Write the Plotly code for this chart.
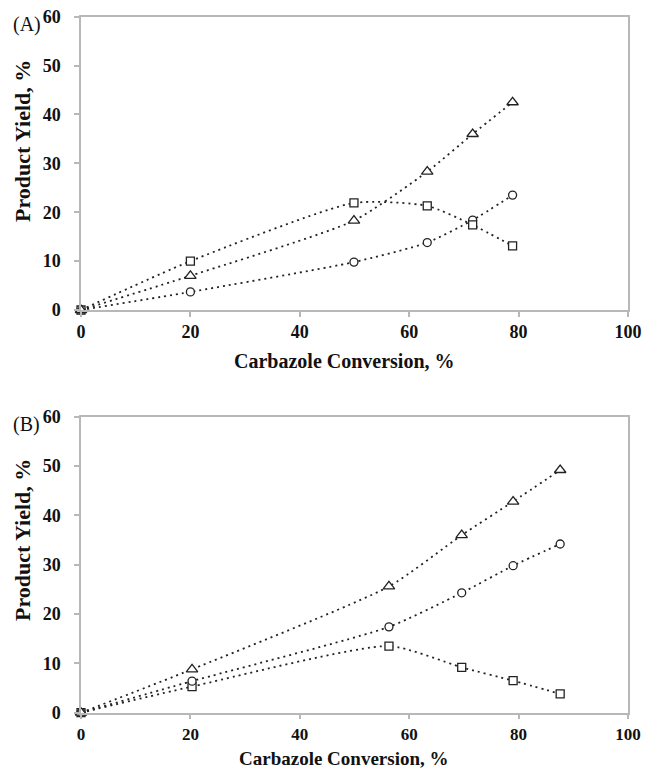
import plotly.graph_objects as go

# Panel A data
a_x = [0, 20, 49.9, 63.3, 71.6, 78.9]
a_tri = [0, 7.0, 18.3, 28.3, 36.0, 42.5]
a_sq = [0, 10.0, 21.9, 21.3, 17.4, 13.1]
a_circ = [0, 3.7, 9.8, 13.8, 18.4, 23.5]

# Panel B data
b_x = [0, 20.3, 56.3, 69.6, 79.0, 87.6]
b_tri = [0, 8.8, 25.6, 36.0, 42.8, 49.2]
b_circ = [0, 6.4, 17.4, 24.3, 29.8, 34.2]
b_sq = [0, 5.3, 13.5, 9.2, 6.5, 3.8]

x_ticks = [0, 20, 40, 60, 80, 100]
y_ticks = [0, 10, 20, 30, 40, 50, 60]

FONT = "Liberation Serif"
LINE_COLOR = "#222222"
AXIS_COLOR = "#b8b8b8"

fig = go.Figure()

def add_series(x, y, symbol, size, xa, ya):
    fig.add_trace(go.Scatter(
        x=x, y=y, mode="lines+markers",
        line=dict(color=LINE_COLOR, width=1.8, dash="2px,4px", shape="spline", smoothing=0.6),
        marker=dict(symbol=symbol, size=size, color="white",
                    line=dict(color="#222222", width=1.3)),
        xaxis=xa, yaxis=ya, showlegend=False, cliponaxis=False,
    ))

for y, s, sz in [(a_circ, "circle", 8), (a_sq, "square", 8), (a_tri, "triangle-up", 10)]:
    add_series(a_x, y, s, sz, "x", "y")
for y, s, sz in [(b_sq, "square", 8), (b_circ, "circle", 8), (b_tri, "triangle-up", 10)]:
    add_series(b_x, y, s, sz, "x2", "y2")

xd = [81 / 646, 628 / 646]
tickfont = dict(family=FONT, size=18, color="#111111", weight="bold")
ax_common = dict(
    showgrid=False, zeroline=False, showline=True, linecolor=AXIS_COLOR, linewidth=1.5,
    mirror=True, ticks="outside", ticklen=5, tickcolor=AXIS_COLOR, tickwidth=1.5,
    automargin=False,
)

fig.update_layout(
    width=646, height=768, margin=dict(l=0, r=0, t=0, b=0, autoexpand=False),
    plot_bgcolor="white", paper_bgcolor="white",
    xaxis=dict(domain=xd, range=[0, 100], tickvals=x_ticks, anchor="y", ticklabelstandoff=0,
               tickfont=tickfont, **ax_common),
    yaxis=dict(domain=[1 - 310 / 768, 1 - 16.7 / 768], range=[0, 60], tickvals=y_ticks, anchor="x",
               ticklabelstandoff=10, tickfont=tickfont, **ax_common),
    xaxis2=dict(domain=xd, range=[0, 100], tickvals=x_ticks, anchor="y2", ticklabelstandoff=0,
                tickfont=dict(tickfont, size=17), **ax_common),
    yaxis2=dict(domain=[1 - 712.7 / 768, 1 - 416.7 / 768], range=[0, 60], tickvals=y_ticks, anchor="x2",
                ticklabelstandoff=10, tickfont=tickfont, **ax_common),
)

ytitle_font = dict(family=FONT, size=22, color="#111111", weight="bold")
ann = []
for label, ytop_px, yc_px, xt_px, xsize in [("(A)", 24, 141, 361, 20), ("(B)", 424, 540, 758, 19)]:
    ann.append(dict(text=label, x=11 / 646, y=1 - ytop_px / 768, xref="paper", yref="paper",
                    xanchor="left", yanchor="middle", showarrow=False,
                    font=dict(family=FONT, size=20, color="#111111")))
    ann.append(dict(text="Product Yield, %", x=22 / 646, y=1 - yc_px / 768, xref="paper", yref="paper",
                    xanchor="center", yanchor="middle", showarrow=False, textangle=-90,
                    font=ytitle_font))
    ann.append(dict(text="Carbazole Conversion, %", x=344 / 646, y=1 - xt_px / 768, xref="paper", yref="paper",
                    xanchor="center", yanchor="middle", showarrow=False,
                    font=dict(family=FONT, size=xsize, color="#111111", weight="bold")))
fig.update_layout(annotations=ann)

fig.write_html("out.html")
